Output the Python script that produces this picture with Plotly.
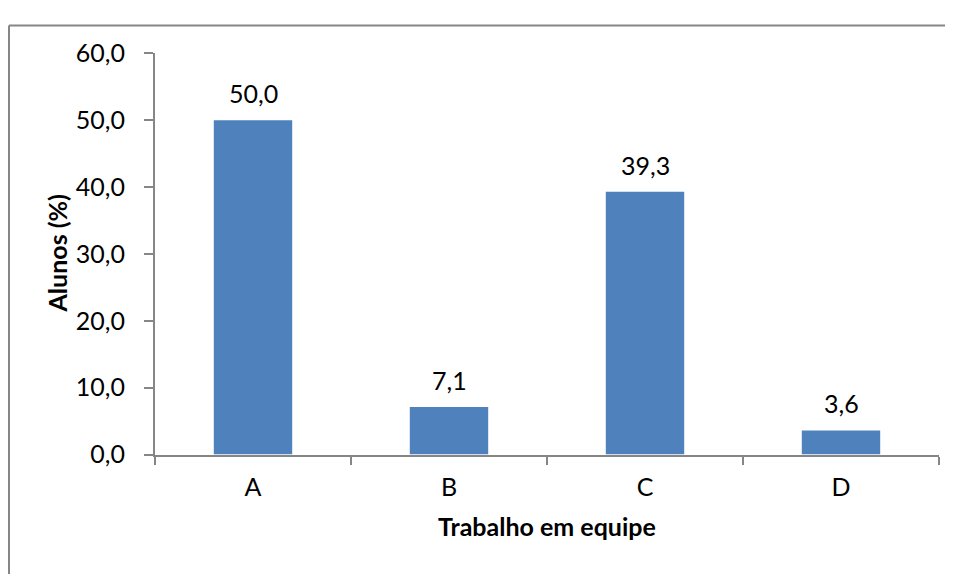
import plotly.graph_objects as go

categories = ["A", "B", "C", "D"]
values = [50.0, 7.1, 39.3, 3.6]
y_ticks = [0, 10, 20, 30, 40, 50, 60]
x_title = "Trabalho em equipe"
y_title = "Alunos (%)"

W, H = 953, 580
OFF = 8  # page body margin
FONT = "Lato, Open Sans, sans-serif"
AX = "#868686"
FS = 25

x0, x1 = 155 - OFF, 939 - OFF
y0, y1 = 39 - OFF, 462 - OFF

fig = go.Figure()
fig.add_trace(go.Bar(
    x=categories, y=values,
    marker=dict(color="#4F81BD", line=dict(width=0)),
    width=0.4,
))

labels = [dict(x=c, y=v, xref="x", yref="y", text=f"{v:.1f}".replace(".", ","),
               showarrow=False, yanchor="bottom", yshift=10,
               font=dict(family=FONT, size=FS, color="#000000"))
          for c, v in zip(categories, values)]

fig.update_layout(
    width=W, height=H,
    margin=dict(l=0, r=0, t=0, b=0),
    paper_bgcolor="white", plot_bgcolor="white",
    separators=",.",
    showlegend=False,
    font=dict(family=FONT, size=FS, color="#000000"),
    xaxis=dict(
        domain=[x0 / W, x1 / W],
        showline=True, linecolor=AX, linewidth=2,
        ticks="outside", tickson="boundaries", ticklen=8, tickcolor=AX, tickwidth=2,
        tickfont=dict(family=FONT, size=FS),
        showgrid=False, zeroline=False,
        ticklabelstandoff=9,
    ),
    yaxis=dict(
        domain=[1 - y1 / H, 1 - y0 / H],
        range=[0, 60],
        tickvals=y_ticks, tickformat=".1f",
        showline=True, linecolor=AX, linewidth=2,
        ticks="outside", ticklen=9, tickcolor=AX, tickwidth=2,
        tickfont=dict(family=FONT, size=FS),
        showgrid=False, zeroline=False,
        ticklabelstandoff=14,
    ),
    annotations=labels + [
        dict(text=f"<b>{x_title}</b>", xref="paper", yref="paper",
             x=(x0 + x1) / 2 / W, y=1 - (537 - OFF) / H, showarrow=False,
             font=dict(family=FONT, size=FS), xanchor="center", yanchor="middle"),
        dict(text=f"<b>{y_title}</b>", xref="paper", yref="paper",
             x=(57 - OFF) / W, y=1 - (250 - OFF) / H, showarrow=False, textangle=-90,
             font=dict(family=FONT, size=FS), xanchor="center", yanchor="middle"),
    ],
    shapes=[
        dict(type="line", xref="paper", yref="paper",
             x0=1 / W, x1=1.0, y0=1 - 1.5 / H, y1=1 - 1.5 / H,
             line=dict(color=AX, width=2)),
        dict(type="line", xref="paper", yref="paper",
             x0=1 / W, x1=1 / W, y0=0, y1=1 - 1.5 / H,
             line=dict(color=AX, width=2)),
    ],
)

fig.write_html("out.html")
